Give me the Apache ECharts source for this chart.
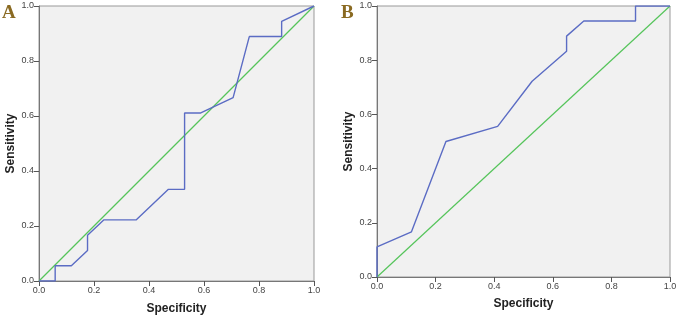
<!DOCTYPE html>
<html><head><meta charset="utf-8">
<script src="https://cdn.jsdelivr.net/npm/echarts@6/dist/echarts.min.js"></script>
<style>html,body{margin:0;padding:0;background:#fff}#c{width:678px;height:316px}</style>
</head><body><div id="c"></div>
<script>
const ticks = [0, 0.2, 0.4, 0.6, 0.8, 1.0];
const rocA_x = [0, 1/17, 1/17, 2/17, 3/17, 3/17, 4/17, 6/17, 8/17, 9/17, 9/17, 10/17, 12/17, 13/17, 15/17, 15/17, 1];
const rocA_y = [0, 0, 1/18, 1/18, 2/18, 3/18, 4/18, 4/18, 6/18, 6/18, 11/18, 11/18, 12/18, 16/18, 16/18, 17/18, 1];
const rocB_x = [0, 0, 2/17, 4/17, 7/17, 9/17, 11/17, 11/17, 12/17, 15/17, 15/17, 1];
const rocB_y = [0, 2/18, 3/18, 9/18, 10/18, 13/18, 15/18, 16/18, 17/18, 17/18, 1, 1];
const refX = [0, 1];
const refY = [0, 1];
const panelLabels = ['A', 'B'];

const zip = (a, b) => a.map((v, i) => [v, b[i]]);
const chart = echarts.init(document.getElementById('c'), null, {renderer: 'canvas'});
const grids = [
  {left: 39, top: 6, width: 275, height: 275},
  {left: 377, top: 6, width: 293, height: 271}
];
function xAx(i){
  return {gridIndex: i, type: 'value', min: 0, max: 1, interval: 0.2,
    name: 'Specificity', nameLocation: 'middle', nameGap: i===0 ? 22 : 21,
    nameTextStyle: {fontFamily: 'Liberation Sans', fontWeight: 'bold', fontSize: 12, color: '#222'},
    axisLine: {show: true, lineStyle: {color: '#777', width: 1}},
    axisTick: {show: true, length: 5, lineStyle: {color: '#555'}},
    axisLabel: {fontFamily: 'Liberation Sans', fontSize: 9, color: '#444', margin: 5, formatter: v => v.toFixed(1)},
    splitLine: {show: false}};
}
function yAx(i){
  return {gridIndex: i, type: 'value', min: 0, max: 1, interval: 0.2,
    name: 'Sensitivity', nameLocation: 'middle', nameGap: 22, nameRotate: 90,
    nameTextStyle: {fontFamily: 'Liberation Sans', fontWeight: 'bold', fontSize: 12, color: '#222'},
    axisLine: {show: true, lineStyle: {color: '#777', width: 1}},
    axisTick: {show: true, length: 5, lineStyle: {color: '#555'}},
    axisLabel: {fontFamily: 'Liberation Sans', fontSize: 9, color: '#444', margin: 5, formatter: v => v.toFixed(1)},
    splitLine: {show: false}};
}
chart.setOption({
  animation: false,
  grid: grids.map(g => Object.assign({show: true, outerBoundsMode: 'none', containLabel: false, backgroundColor: '#f1f1f1', borderColor: '#999', borderWidth: 1}, g)),
  xAxis: [xAx(0), xAx(1)],
  yAxis: [yAx(0), yAx(1)],
  graphic: [
    {type: 'text', left: 2, top: 4, style: {text: panelLabels[0], font: 'bold 19px "Liberation Serif"', fill: '#8a6a22'}},
    {type: 'text', left: 341, top: 4, style: {text: panelLabels[1], font: 'bold 19px "Liberation Serif"', fill: '#8a6a22'}}
  ],
  series: [
    {type: 'line', xAxisIndex: 0, yAxisIndex: 0, data: zip(refX, refY), showSymbol: false, lineStyle: {color: '#55c45a', width: 1.2}},
    {type: 'line', xAxisIndex: 0, yAxisIndex: 0, data: zip(rocA_x, rocA_y), showSymbol: false, lineStyle: {color: '#5b6cc4', width: 1.4}},
    {type: 'line', xAxisIndex: 1, yAxisIndex: 1, data: zip(refX, refY), showSymbol: false, lineStyle: {color: '#55c45a', width: 1.2}},
    {type: 'line', xAxisIndex: 1, yAxisIndex: 1, data: zip(rocB_x, rocB_y), showSymbol: false, lineStyle: {color: '#5b6cc4', width: 1.4}}
  ]
});
</script></body></html>
